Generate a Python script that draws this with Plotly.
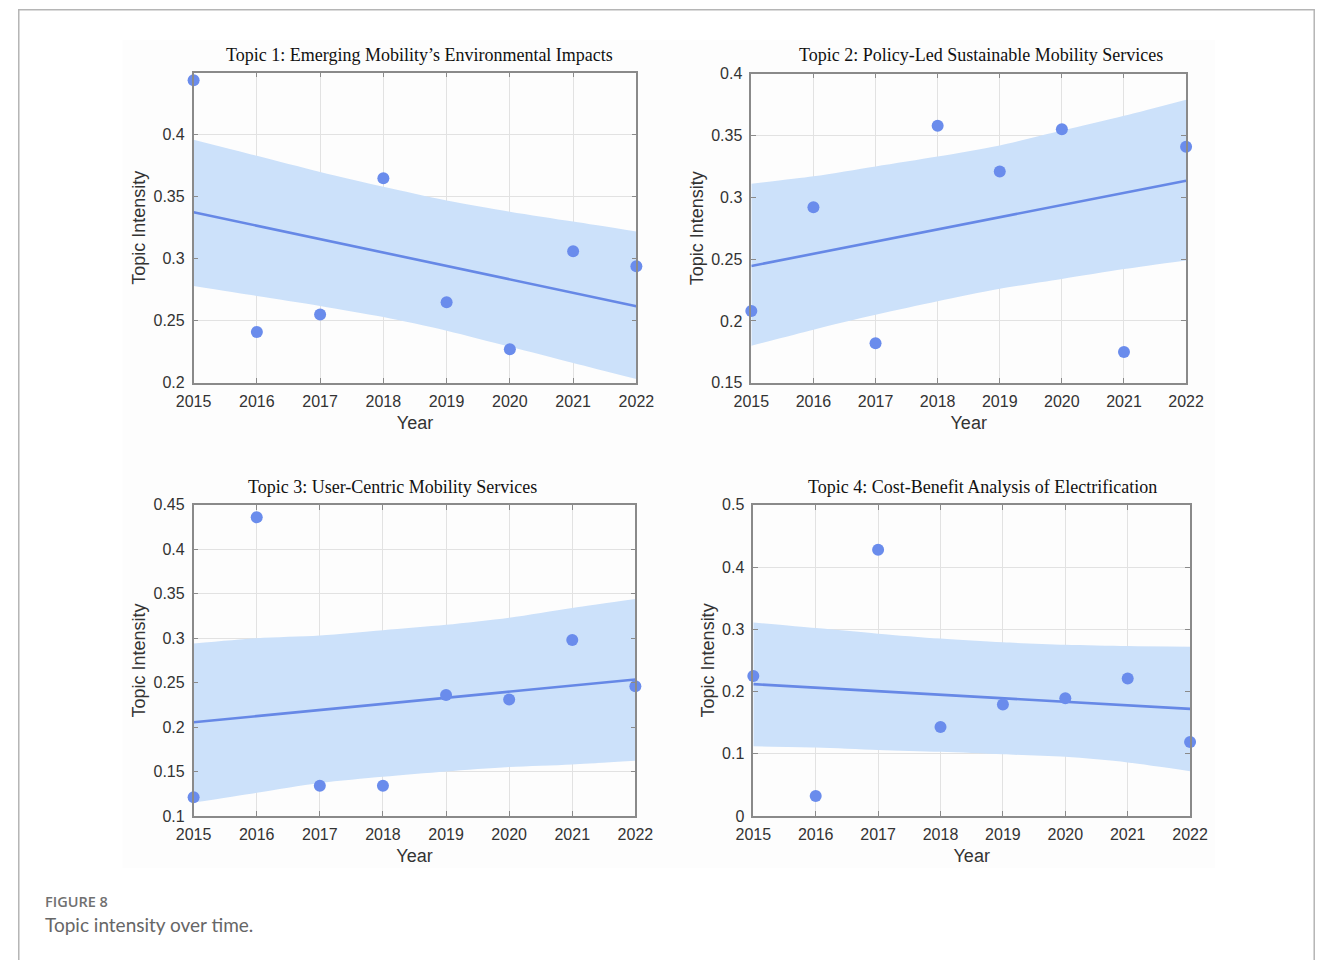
import numpy as np
import plotly.graph_objects as go

years = [2015, 2016, 2017, 2018, 2019, 2020, 2021, 2022]

titles = [
    "Topic 1: Emerging Mobility’s Environmental Impacts",
    "Topic 2: Policy-Led Sustainable Mobility Services",
    "Topic 3: User-Centric Mobility Services",
    "Topic 4: Cost-Benefit Analysis of Electrification",
]

t1_values = [0.444, 0.241, 0.255, 0.365, 0.265, 0.227, 0.306, 0.294]
t1_upper = [0.396, 0.383, 0.370, 0.358, 0.347, 0.338, 0.330, 0.322]
t1_lower = [0.278, 0.270, 0.262, 0.253, 0.242, 0.229, 0.216, 0.203]

t2_values = [0.208, 0.292, 0.182, 0.358, 0.321, 0.355, 0.175, 0.341]
t2_upper = [0.311, 0.317, 0.325, 0.333, 0.342, 0.354, 0.366, 0.379]
t2_lower = [0.180, 0.193, 0.205, 0.216, 0.226, 0.234, 0.242, 0.249]

t3_values = [0.121, 0.436, 0.134, 0.134, 0.236, 0.231, 0.298, 0.246]
t3_upper = [0.294, 0.300, 0.303, 0.309, 0.315, 0.323, 0.334, 0.344]
t3_lower = [0.115, 0.126, 0.137, 0.144, 0.150, 0.155, 0.158, 0.162]

t4_values = [0.225, 0.032, 0.428, 0.143, 0.179, 0.189, 0.221, 0.119]
t4_upper = [0.311, 0.302, 0.293, 0.285, 0.279, 0.275, 0.273, 0.272]
t4_lower = [0.112, 0.110, 0.106, 0.103, 0.099, 0.095, 0.086, 0.072]

y_ranges = [[0.2, 0.45], [0.15, 0.4], [0.1, 0.45], [0.0, 0.5]]
y_ticks = [
    [0.2, 0.25, 0.3, 0.35, 0.4],
    [0.15, 0.2, 0.25, 0.3, 0.35, 0.4],
    [0.1, 0.15, 0.2, 0.25, 0.3, 0.35, 0.4, 0.45],
    [0, 0.1, 0.2, 0.3, 0.4, 0.5],
]
y_ticktext = [
    ["0.2", "0.25", "0.3", "0.35", "0.4"],
    ["0.15", "0.2", "0.25", "0.3", "0.35", "0.4"],
    ["0.1", "0.15", "0.2", "0.25", "0.3", "0.35", "0.4", "0.45"],
    ["0", "0.1", "0.2", "0.3", "0.4", "0.5"],
]

series = [
    (t1_values, t1_upper, t1_lower),
    (t2_values, t2_upper, t2_lower),
    (t3_values, t3_upper, t3_lower),
    (t4_values, t4_upper, t4_lower),
]

W, H = 1333, 960
# observed mapping of the photographed page: screen = off + scale * figure pixel
SX, OX = 0.9735, 18.3
SY, OY = 0.982, 8.3


def px(s):
    p = (s - OX) / SX
    return min(max(p, 0.0), W) / W


def py(s):
    p = (s - OY) / SY
    return 1 - min(max(p, 0.0), H) / H


# target pixel boxes: left, right, top, bottom
boxes = [
    (194, 637, 73, 383),
    (752, 1187, 74, 383),
    (194, 636, 505, 816),
    (754, 1191, 505, 816),
]
title_pos = [(420, 55), (982, 55), (393, 487), (983, 487)]

BAND = "#cce1fa"
LINE = "#6688e6"
MARK = "#6a8cec"
AXC = "#8a8a8a"
GRID = "#e2e2e2"
TICKF = dict(family="Liberation Sans, Arial, sans-serif", size=16, color="#333333")
TITLEF = dict(family="Liberation Sans, Arial, sans-serif", size=18, color="#333333")

fig = go.Figure()
annotations = []
layout_axes = {}

for i, ((vals, up, lo), box) in enumerate(zip(series, boxes)):
    n = "" if i == 0 else str(i + 1)
    xa, ya = "x" + n, "y" + n
    l, r, t, b = box
    xdom = [px(l), px(r)]
    ydom = [py(b), py(t)]

    fig.add_trace(go.Scatter(x=years, y=lo, xaxis=xa, yaxis=ya, mode="lines",
                             line=dict(width=0, color=BAND, shape="spline", smoothing=0.8),
                             showlegend=False, hoverinfo="skip"))
    fig.add_trace(go.Scatter(x=years, y=up, xaxis=xa, yaxis=ya, mode="lines",
                             fill="tonexty", fillcolor=BAND,
                             line=dict(width=0, color=BAND, shape="spline", smoothing=0.8),
                             showlegend=False, hoverinfo="skip"))
    coef = np.polyfit(years, vals, 1)
    fit = np.polyval(coef, years)
    fig.add_trace(go.Scatter(x=years, y=fit, xaxis=xa, yaxis=ya, mode="lines",
                             line=dict(width=2.6, color=LINE), showlegend=False))
    fig.add_trace(go.Scatter(x=years, y=vals, xaxis=xa, yaxis=ya, mode="markers",
                             marker=dict(size=12, color=MARK), cliponaxis=False,
                             showlegend=False))

    layout_axes["xaxis" + n] = dict(
        domain=xdom, range=[2015, 2022], anchor=ya, tickvals=years,
        ticktext=[str(y) for y in years], showgrid=True, gridcolor=GRID, gridwidth=1,
        showline=True, linecolor=AXC, linewidth=1.5, mirror="allticks",
        ticks="inside", ticklen=5, tickcolor=AXC, tickfont=TICKF, zeroline=False,
        ticklabelstandoff=3,
        title=dict(text="Year", font=TITLEF, standoff=8),
    )
    layout_axes["yaxis" + n] = dict(
        domain=ydom, range=y_ranges[i], anchor=xa, tickvals=y_ticks[i],
        ticktext=y_ticktext[i], showgrid=True, gridcolor=GRID, gridwidth=1,
        showline=True, linecolor=AXC, linewidth=1.5, mirror="allticks",
        ticks="inside", ticklen=5, tickcolor=AXC, tickfont=TICKF, zeroline=False,
        ticklabelstandoff=4,
        title=dict(text="Topic Intensity", font=TITLEF, standoff=3),
    )
    tx, ty = title_pos[i]
    annotations.append(dict(
        text=titles[i], xref="paper", yref="paper",
        x=px(tx), y=py(ty), xanchor="center", yanchor="middle",
        showarrow=False,
        font=dict(family="Liberation Serif, Times New Roman, serif", size=18, color="#111111"),
    ))

annotations.append(dict(text="FIGURE 8", xref="paper", yref="paper",
                        x=px(43), y=py(902), xanchor="left", yanchor="middle",
                        showarrow=False,
                        font=dict(family="Open Sans, sans-serif", size=14.5, color="#707070",
                                  weight=600)))
annotations.append(dict(text="Topic intensity over time.", xref="paper", yref="paper",
                        x=px(43), y=py(925), xanchor="left", yanchor="middle",
                        showarrow=False,
                        font=dict(family="Lato, sans-serif", size=19, color="#666666")))

shapes = [
    dict(type="rect", xref="paper", yref="paper", x0=0.8 / W, x1=1 - 0.8 / W, y0=-0.05, y1=py(10),
         line=dict(color="#b5b5b5", width=1.5), fillcolor="rgba(0,0,0,0)", layer="below"),
    dict(type="rect", xref="paper", yref="paper", x0=px(123), x1=px(1216), y0=py(868), y1=py(40),
         line=dict(width=0), fillcolor="#fdfdfd", layer="below"),
]

fig.update_layout(
    width=W, height=H, margin=dict(l=0, r=0, t=0, b=0),
    paper_bgcolor="white", plot_bgcolor="white",
    showlegend=False, annotations=annotations, shapes=shapes,
    **layout_axes,
)

fig.write_html("out.html")
